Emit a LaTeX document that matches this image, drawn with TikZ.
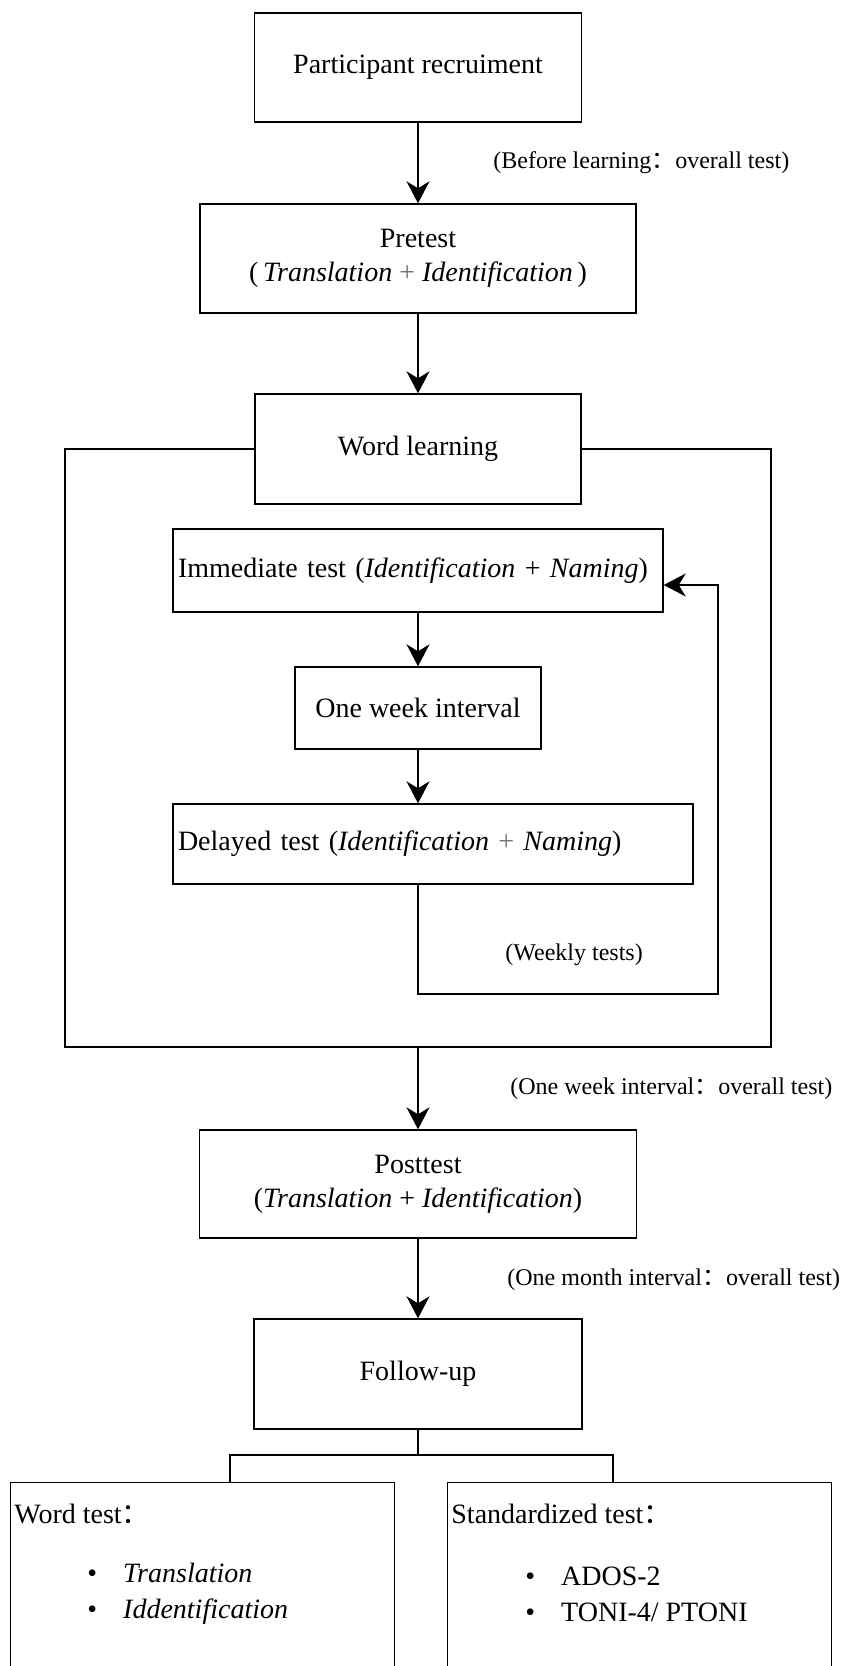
\documentclass[tikz,border=0pt]{standalone}
\usepackage{fontspec}
\setmainfont{Liberation Serif}
\newfontfamily\cjk{Noto Sans CJK SC}
\usetikzlibrary{arrows.meta, positioning, calc}

\tikzset{
    stage/.style={draw, rectangle, line width=0.7pt, align=center, inner sep=2pt,
                  font=\fontsize{14}{17}\selectfont},
    panel/.style={draw, rectangle, line width=0.7pt, anchor=north west,
                  minimum width=192pt, minimum height=110pt},
    item/.style={anchor=west, inner sep=0pt, align=left, font=\fontsize{14}{17}\selectfont},
    note/.style={anchor=west, inner sep=0pt, font=\fontsize{12}{14}\selectfont},
    flow/.style={-{Stealth[length=11pt, width=11.5pt, inset=3.5pt]}, line width=0.6pt},
    link/.style={line width=0.6pt}
}
\newcommand{\fwcolon}{{\cjk ：}}

\begin{document}
\begin{tikzpicture}[x=0.5pt, y=-0.5pt]
    \useasboundingbox (0,0) rectangle (846,1666);
    \clip (0,0) rectangle (846,1666);

    % main stages
    \node[stage, minimum width=163.5pt, minimum height=54.5pt] (recruit) at (418,67.5) {Participant recruiment};
    \node[stage, minimum width=218pt, minimum height=54.5pt] (pretest) at (418,258.5)
        {Pretest\\(\,\textit{Translation} {\color{black!55}+} \textit{Identification}\,)};
    \node[stage, minimum width=163pt, minimum height=55pt] (learning) at (418,449) {Word learning};
    \node[stage, minimum width=245pt, minimum height=41.5pt, text width=240pt, align=left] (immediate) at (418,570.5)
        {Immediate test (\textit{Identification} + \textit{Naming})};
    \node[stage, minimum width=123pt, minimum height=41pt] (interval) at (418,708) {One week interval};
    \node[stage, minimum width=260pt, minimum height=40pt, text width=255pt, align=left] (delayed) at (433,844)
        {Delayed test (\textit{Identification} {\color{black!55}+} \textit{Naming})};
    \node[stage, minimum width=218.5pt, minimum height=54pt] (posttest) at (418,1184)
        {Posttest\\(\textit{Translation} + \textit{Identification})};
    \node[stage, minimum width=164pt, minimum height=55pt] (followup) at (418,1374) {Follow-up};

    % learning frame
    \coordinate (fsw) at (65,1047);
    \coordinate (fse) at (771,1047);
    \coordinate (fbot) at (418,1047);
    \draw[link] (learning.west) -| (fsw) -- (fse) |- (learning.east);

    % arrows
    \draw[flow] (recruit) -- (pretest);
    \draw[flow] (pretest) -- (learning);
    \draw[flow] (immediate) -- (interval);
    \draw[flow] (interval.south) -- (interval.south |- delayed.north);
    \draw[flow] (fbot) -- (posttest);
    \draw[flow] (posttest) -- (followup);

    % weekly loop
    \coordinate (loopse) at (718,994);
    \draw[flow] (interval.south |- delayed.south) |- (loopse) |- ([yshift=-7.25pt]immediate.east);

    % notes
    \node[note] (notebefore) at (493,163) {(Before learning\fwcolon overall test)};
    \node[note] (noteweekly) at (505,955) {(Weekly tests)};
    \node[note] (noteweek) at (510,1089) {(One week interval\fwcolon overall test)};
    \node[note] (notemonth) at (507,1280) {(One month interval\fwcolon overall test)};

    % follow-up tests
    \node[panel] (wordtest) at (10,1482) {};
    \node[panel] (stdtest) at (447,1482) {};
    \coordinate (split) at (418,1455);
    \coordinate (brl) at (230,1455);
    \coordinate (brr) at (613,1455);
    \draw[link] (followup.south) -- (split);
    \draw[link] (wordtest.north -| brl) -- (brl) -- (brr) -- (brr |- stdtest.north);

    \node[item] (wordhead) at (14,1514) {Word test\fwcolon};
    \node[item] (wordlist) at (87,1594)
        {•\hspace{13pt}\textit{Translation}\\[1pt]•\hspace{13pt}\textit{Iddentification}};
    \node[item] (stdhead) at (451,1514) {Standardized test\fwcolon};
    \node[item] (stdlist) at (525,1594)
        {•\hspace{13pt}ADOS-2\\[1pt]•\hspace{13pt}TONI-4/ PTONI};
\end{tikzpicture}
\end{document}
